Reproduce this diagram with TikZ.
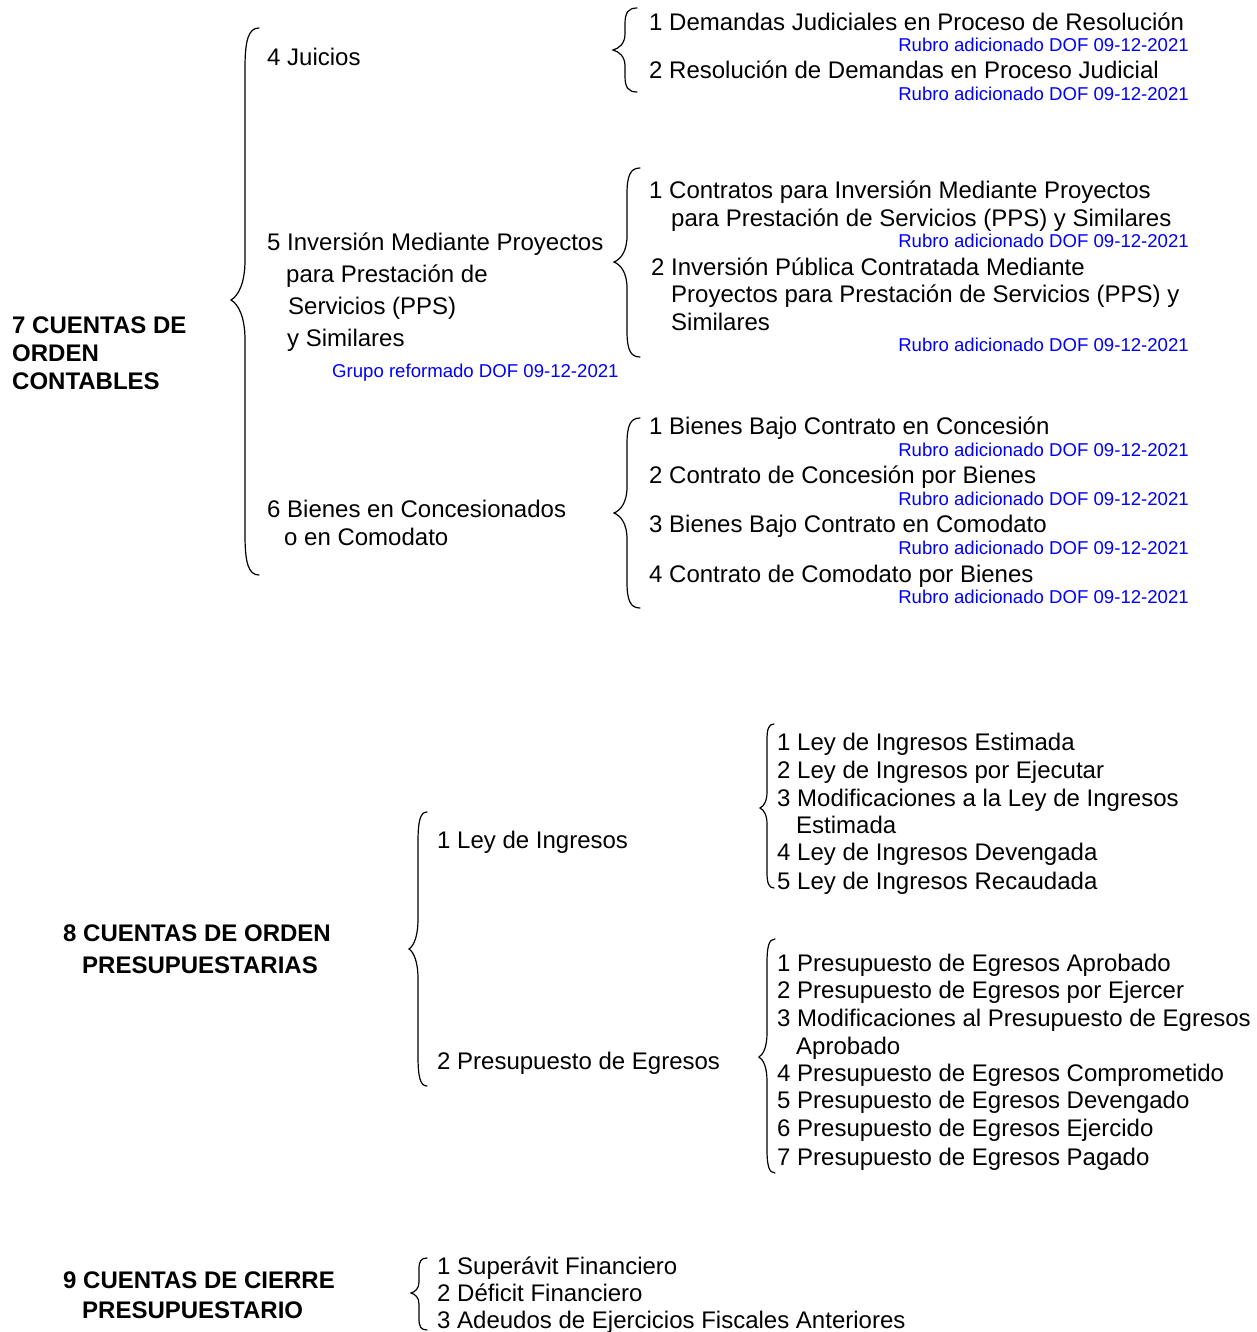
\documentclass[tikz,border=0pt]{standalone}
\usepackage{fontspec}
\setmainfont{Liberation Sans}
\begin{document}
\begin{tikzpicture}[x=1pt,y=-1pt,
  txt/.style={anchor=west,inner sep=0pt,font=\fontsize{24}{28}\selectfont,text height=17pt,text depth=0pt},
  hd/.style={anchor=west,inner sep=0pt,font=\fontsize{24}{28}\selectfont\bfseries,text height=17pt,text depth=0pt},
  note/.style={anchor=east,inner sep=0pt,font=\fontsize{18.6}{22}\selectfont,text=blue,text height=13.3pt,text depth=0pt},
  notew/.style={note,anchor=west},
  bracestyle/.style={draw=black,line width=1.2pt,line cap=round}]
\useasboundingbox (0,0) rectangle (1256,1332);
\newcommand\cbr[6]{%
\draw[bracestyle] ({#1+#5},#2) .. controls ({#1+#5*0.25},#2) and (#1,{#2+#6*0.3}) .. (#1,{#2+#6}) -- (#1,{#3-#6}) .. controls (#1,{#3-#6*0.4}) and ({#1-#5*0.5},{#3-#6*0.1}) .. ({#1-#5},#3) .. controls ({#1-#5*0.5},{#3+#6*0.1}) and (#1,{#3+#6*0.4}) .. (#1,{#3+#6}) -- (#1,{#4-#6}) .. controls (#1,{#4-#6*0.3}) and ({#1+#5*0.25},#4) .. ({#1+#5},#4);}

% ---------- 7 ----------
\node[hd] (h7a) at (12,325) {7 CUENTAS DE};
\node[hd] (h7b) at (12,353) {ORDEN};
\node[hd] (h7c) at (12,381) {CONTABLES};
\cbr{245}{28}{300}{575}{14}{40}

\node[txt] (g4) at (267,57) {4 Juicios};
\node[txt] (g5a) at (267,242) {5 Inversión Mediante Proyectos};
\node[txt] (g5b) at (286,274) {para Prestación de};
\node[txt] (g5c) at (288,306) {Servicios (PPS)};
\node[txt] (g5d) at (287,338) {y Similares};
\node[notew] (g5n) at (332,371) {Grupo reformado DOF 09-12-2021};
\node[txt] (g6a) at (267,509) {6 Bienes en Concesionados};
\node[txt] (g6b) at (284,537) {o en Comodato};

\cbr{625}{8}{50}{92}{12}{16}
\node[txt] (r41) at (649,22) {1 Demandas Judiciales en Proceso de Resolución};
\node[note] (r41n) at (1189,45) {Rubro adicionado DOF 09-12-2021};
\node[txt] (r42) at (649,70) {2 Resolución de Demandas en Proceso Judicial};
\node[note] (r42n) at (1189,94) {Rubro adicionado DOF 09-12-2021};

\cbr{627}{168}{262}{357}{13}{26}
\node[txt] (r51a) at (649,190) {1 Contratos para Inversión Mediante Proyectos};
\node[txt] (r51b) at (671,218) {para Prestación de Servicios (PPS) y Similares};
\node[note] (r51n) at (1189,241) {Rubro adicionado DOF 09-12-2021};
\node[txt] (r52a) at (651,267) {2 Inversión Pública Contratada Mediante};
\node[txt] (r52b) at (671,294) {Proyectos para Prestación de Servicios (PPS) y};
\node[txt] (r52c) at (671,322) {Similares};
\node[note] (r52n) at (1189,345) {Rubro adicionado DOF 09-12-2021};

\cbr{627}{418}{513}{608}{13}{26}
\node[txt] (r61) at (649,426) {1 Bienes Bajo Contrato en Concesión};
\node[note] (r61n) at (1189,450) {Rubro adicionado DOF 09-12-2021};
\node[txt] (r62) at (649,475) {2 Contrato de Concesión por Bienes};
\node[note] (r62n) at (1189,499) {Rubro adicionado DOF 09-12-2021};
\node[txt] (r63) at (649,524) {3 Bienes Bajo Contrato en Comodato};
\node[note] (r63n) at (1189,548) {Rubro adicionado DOF 09-12-2021};
\node[txt] (r64) at (649,574) {4 Contrato de Comodato por Bienes};
\node[note] (r64n) at (1189,597) {Rubro adicionado DOF 09-12-2021};

% ---------- 8 ----------
\node[hd] (h8a) at (63,933) {8 CUENTAS DE ORDEN};
\node[hd] (h8b) at (82,965) {PRESUPUESTARIAS};
\cbr{418}{812}{949}{1086}{9}{30}
\node[txt] (g81) at (437,840) {1 Ley de Ingresos};
\node[txt] (g82) at (437,1061) {2 Presupuesto de Egresos};

\cbr{767}{724}{808}{888}{7}{16}
\node[txt] (l1) at (777,742) {1 Ley de Ingresos Estimada};
\node[txt] (l2) at (777,770) {2 Ley de Ingresos por Ejecutar};
\node[txt] (l3a) at (777,798) {3 Modificaciones a la Ley de Ingresos};
\node[txt] (l3b) at (796,825) {Estimada};
\node[txt] (l4) at (777,852) {4 Ley de Ingresos Devengada};
\node[txt] (l5) at (777,881) {5 Ley de Ingresos Recaudada};

\cbr{767}{939}{1057}{1173}{8}{24}
\node[txt] (p1) at (777,963) {1 Presupuesto de Egresos Aprobado};
\node[txt] (p2) at (777,990) {2 Presupuesto de Egresos por Ejercer};
\node[txt] (p3a) at (777,1018) {3 Modificaciones al Presupuesto de Egresos};
\node[txt] (p3b) at (796,1046) {Aprobado};
\node[txt] (p4) at (777,1073) {4 Presupuesto de Egresos Comprometido};
\node[txt] (p5) at (777,1100) {5 Presupuesto de Egresos Devengado};
\node[txt] (p6) at (777,1128) {6 Presupuesto de Egresos Ejercido};
\node[txt] (p7) at (777,1157) {7 Presupuesto de Egresos Pagado};

% ---------- 9 ----------
\node[hd] (h9a) at (63,1280) {9 CUENTAS DE CIERRE};
\node[hd] (h9b) at (82,1310) {PRESUPUESTARIO};
\cbr{419}{1258}{1293}{1330}{8}{11}
\node[txt] (c1) at (437,1266) {1 Superávit Financiero};
\node[txt] (c2) at (437,1293) {2 Déficit Financiero};
\node[txt] (c3) at (437,1320) {3 Adeudos de Ejercicios Fiscales Anteriores};
\end{tikzpicture}
\end{document}
